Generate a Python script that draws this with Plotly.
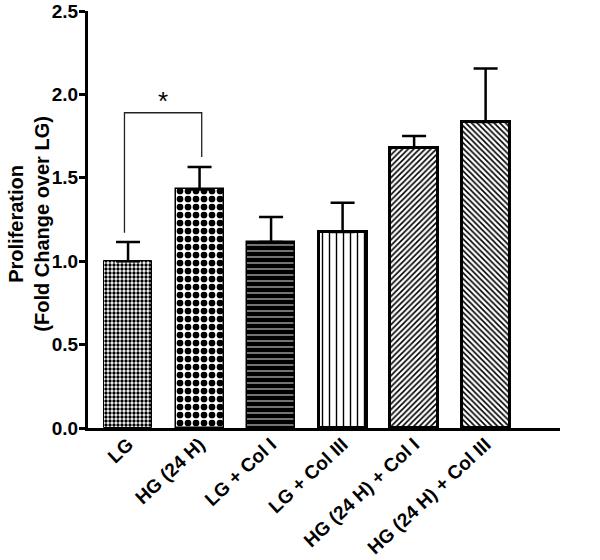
import plotly.graph_objects as go

categories = ["LG", "HG (24 H)", "LG + Col I", "LG + Col III", "HG (24 H) + Col I", "HG (24 H) + Col III"]
means = [1.00, 1.43, 1.115, 1.175, 1.68, 1.835]
sem = [0.115, 0.135, 0.15, 0.175, 0.07, 0.32]
y_ticks = [0.0, 0.5, 1.0, 1.5, 2.0, 2.5]
y_tick_labels = ["0.0", "0.5", "1.0", "1.5", "2.0", "2.5"]
y_title = "Proliferation<br>(Fold Change over LG)"

# significance bracket between LG and HG (24 H)
sig_left_x = [-0.05, -0.05]
sig_left_y = [1.17, 1.89]
sig_right_x = [1.03, 1.03]
sig_right_y = [1.89, 1.625]
sig_label = "*"

x = list(range(len(categories)))
shapes = [".", ".", "-", "|", "/", "\\"]
sizes = [4, 8, 6, 7, 4, 4]
solid = [0.55, 0.55, 0.85, 0.2, 0.4, 0.4]
outline_w = [1, 1.5, 1.5, 3, 3, 3]

FONT = "Liberation Sans, Arial"

fig = go.Figure()
for i in x:
    fig.add_trace(go.Bar(
        x=[x[i]], y=[means[i]], width=0.67,
        marker=dict(color="white",
                    line=dict(color="black", width=outline_w[i]),
                    pattern=dict(shape=shapes[i], size=sizes[i], solidity=solid[i],
                                 fgcolor="black", bgcolor="white", fillmode="replace")),
        error_y=dict(type="data", array=[sem[i]], arrayminus=[0], symmetric=False,
                     color="black", thickness=2.5, width=12),
        showlegend=False, hoverinfo="skip"))

fig.add_trace(go.Scatter(x=sig_left_x + sig_right_x, y=sig_left_y + sig_right_y,
                         mode="lines", line=dict(color="#222", width=1.3),
                         showlegend=False, hoverinfo="skip"))

fig.add_annotation(x=(sig_left_x[0] + sig_right_x[0]) / 2, y=sig_left_y[1] + 0.07,
                   text=sig_label, showarrow=False,
                   font=dict(family=FONT, size=26, color="black"))

fig.add_annotation(xref="paper", yref="paper", x=-0.125, y=0.49, text=y_title,
                   textangle=-90, showarrow=False, xanchor="center", yanchor="middle",
                   font=dict(family=FONT, size=20, weight="bold", color="black"))

fig.update_layout(
    width=600, height=560,
    margin=dict(l=88, r=40, t=11, b=132),
    plot_bgcolor="white", paper_bgcolor="white",
    bargap=0,
    font=dict(family=FONT, color="black"),
)
fig.update_xaxes(
    range=[-0.56, 6.04], tickmode="array", tickvals=x, ticktext=categories,
    tickangle=-43, showline=True, linecolor="black", linewidth=3,
    showgrid=False, zeroline=False, ticks="", automargin=False, ticklabelstandoff=-5,
    tickfont=dict(family=FONT, size=19, weight="bold", color="black"),
)
fig.update_yaxes(
    range=[0, 2.5], tickmode="array", tickvals=y_ticks, ticktext=y_tick_labels,
    showline=True, linecolor="black", linewidth=3, showgrid=False, zeroline=False,
    ticks="outside", ticklen=6, tickwidth=3, tickcolor="black", automargin=False,
    ticklabelstandoff=-3,
    tickfont=dict(family=FONT, size=19, weight="bold", color="black"),
)

fig.write_html("out.html", config={"displayModeBar": False},
               post_script="document.body.style.margin='0';")
